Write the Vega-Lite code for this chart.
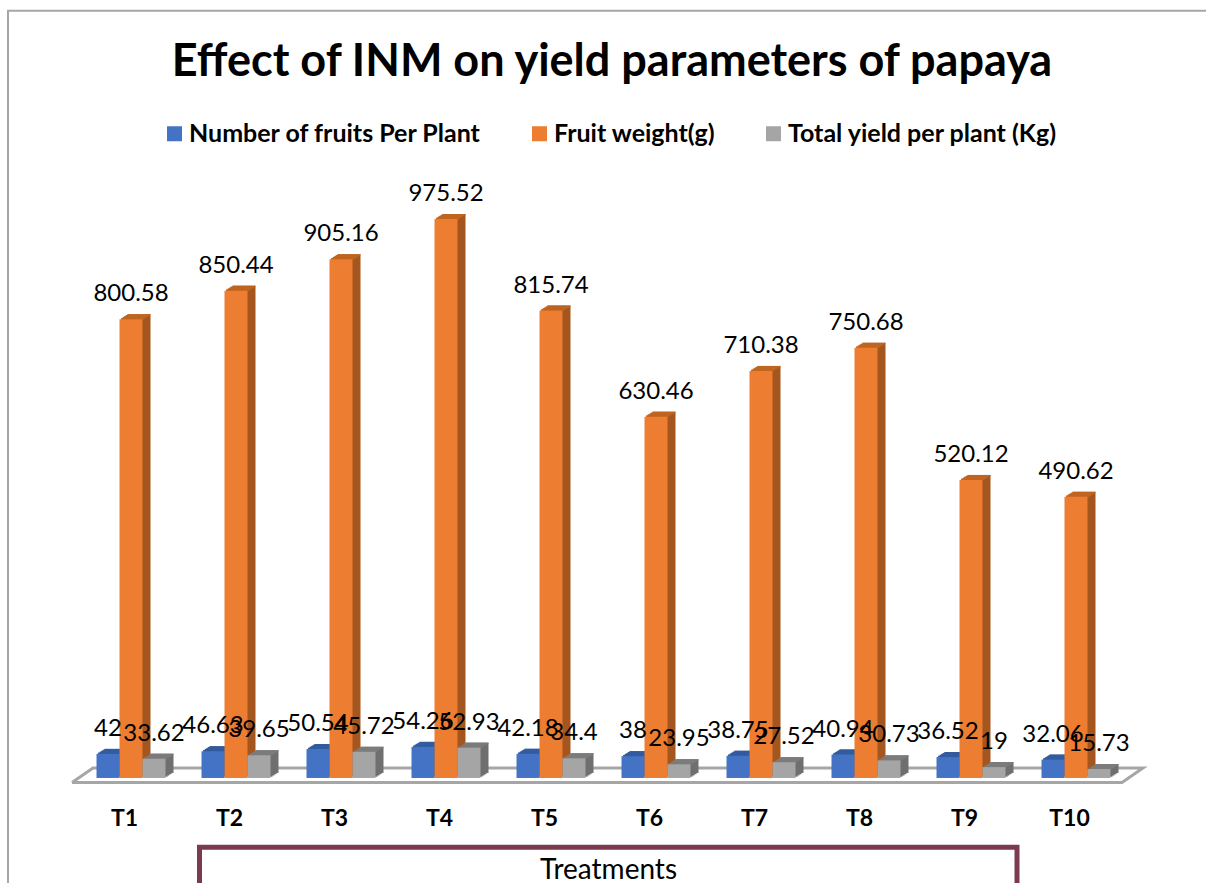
{"$schema":"https://vega.github.io/schema/vega-lite/v6.json","width":1050,"height":620,"autosize":"none","padding":{"left":72,"top":170,"right":84,"bottom":93},"background":"white","config":{"view":{"stroke":null},"font":"Lato"},"title":{"text":"Effect of INM on yield parameters of papaya","font":"Lato","fontSize":45,"fontWeight":"bold","color":"#000000","offset":-78,"dx":15,"anchor":"middle"},"resolve":{"scale":{"x":"independent"}},"layer":[{"data":{"values":[{"x":-64,"y":-200,"o":1},{"x":-64,"y":1339,"o":2},{"x":1134,"y":1339,"o":3}]},"mark":{"type":"line","stroke":"#a6a6a6","strokeWidth":2,"clip":false},"encoding":{"x":{"field":"x","type":"quantitative","axis":null,"scale":{"domain":[0,1050],"nice":false,"zero":false}},"y":{"field":"y","type":"quantitative","axis":null,"scale":{"domain":[-21,1061],"nice":false,"zero":false}},"order":{"field":"o"}}},{"data":{"values":[{"x":0,"y":-8,"o":1},{"x":1050,"y":-8,"o":2},{"x":1071,"y":17.5,"o":3},{"x":21,"y":17.5,"o":4},{"x":0,"y":-8,"o":5}]},"mark":{"type":"line","stroke":"#a6a6a6","strokeWidth":3,"clip":false},"encoding":{"x":{"field":"x","type":"quantitative","axis":null,"scale":{"domain":[0,1050],"nice":false,"zero":false}},"y":{"field":"y","type":"quantitative","axis":null},"order":{"field":"o"}}},{"data":{"values":[{"x":127.5,"x2":945,"y":-121,"y2":-200}]},"mark":{"type":"rect","fill":null,"stroke":"#7b3b4e","strokeWidth":5,"clip":false},"encoding":{"x":{"field":"x","type":"quantitative","axis":null,"scale":{"domain":[0,1050],"nice":false,"zero":false}},"x2":{"field":"x2"},"y":{"field":"y","type":"quantitative","axis":null},"y2":{"field":"y2"}}},{"data":{"values":[{"t":"T1","s":"Number of fruits Per Plant","v":42},{"t":"T1","s":"Fruit weight(g)","v":800.58},{"t":"T1","s":"Total yield per plant (Kg)","v":33.62},{"t":"T2","s":"Number of fruits Per Plant","v":46.63},{"t":"T2","s":"Fruit weight(g)","v":850.44},{"t":"T2","s":"Total yield per plant (Kg)","v":39.65},{"t":"T3","s":"Number of fruits Per Plant","v":50.54},{"t":"T3","s":"Fruit weight(g)","v":905.16},{"t":"T3","s":"Total yield per plant (Kg)","v":45.72},{"t":"T4","s":"Number of fruits Per Plant","v":54.26},{"t":"T4","s":"Fruit weight(g)","v":975.52},{"t":"T4","s":"Total yield per plant (Kg)","v":52.93},{"t":"T5","s":"Number of fruits Per Plant","v":42.18},{"t":"T5","s":"Fruit weight(g)","v":815.74},{"t":"T5","s":"Total yield per plant (Kg)","v":34.4},{"t":"T6","s":"Number of fruits Per Plant","v":38},{"t":"T6","s":"Fruit weight(g)","v":630.46},{"t":"T6","s":"Total yield per plant (Kg)","v":23.95},{"t":"T7","s":"Number of fruits Per Plant","v":38.75},{"t":"T7","s":"Fruit weight(g)","v":710.38},{"t":"T7","s":"Total yield per plant (Kg)","v":27.52},{"t":"T8","s":"Number of fruits Per Plant","v":40.94},{"t":"T8","s":"Fruit weight(g)","v":750.68},{"t":"T8","s":"Total yield per plant (Kg)","v":30.73},{"t":"T9","s":"Number of fruits Per Plant","v":36.52},{"t":"T9","s":"Fruit weight(g)","v":520.12},{"t":"T9","s":"Total yield per plant (Kg)","v":19},{"t":"T10","s":"Number of fruits Per Plant","v":32.06},{"t":"T10","s":"Fruit weight(g)","v":490.62},{"t":"T10","s":"Total yield per plant (Kg)","v":15.73}]},"encoding":{"x":{"field":"t","type":"nominal","sort":["T1","T2","T3","T4","T5","T6","T7","T8","T9","T10"],"scale":{"paddingInner":0.343,"paddingOuter":0.1715},"axis":{"title":"Treatments","titleFontSize":28,"titleFontWeight":"normal","titleColor":"#000000","titleX":536,"titleY":80,"titleBaseline":"middle","titleFont":"Lato","labelFontSize":23,"labelFontWeight":"bold","labelColor":"#000000","labelAngle":0,"labelFont":"Lato","labelPadding":17,"ticks":false,"domain":false,"grid":false}},"y":{"field":"v","type":"quantitative","axis":null}},"resolve":{"scale":{"color":"independent","xOffset":"independent"}},"layer":[{"mark":{"type":"bar","yOffset":-1.25,"y2Offset":-1.25},"encoding":{"xOffset":{"field":"s","type":"nominal","sort":["Number of fruits Per Plant","Fruit weight(g)","Total yield per plant (Kg)"],"scale":{"paddingInner":0,"paddingOuter":0,"range":[8.5,77.5]}},"color":{"field":"s","scale":{"domain":["Number of fruits Per Plant","Fruit weight(g)","Total yield per plant (Kg)"],"range":["#2f5597","#a5561f","#6f6f6f"]},"legend":null}}},{"mark":{"type":"bar","yOffset":-2.5,"y2Offset":-2.5},"encoding":{"xOffset":{"field":"s","type":"nominal","sort":["Number of fruits Per Plant","Fruit weight(g)","Total yield per plant (Kg)"],"scale":{"paddingInner":0,"paddingOuter":0,"range":[10.5,79.5]}},"color":{"field":"s","scale":{"domain":["Number of fruits Per Plant","Fruit weight(g)","Total yield per plant (Kg)"],"range":["#2f5597","#a5561f","#6f6f6f"]},"legend":null}}},{"mark":{"type":"bar","yOffset":-3.75,"y2Offset":-3.75},"encoding":{"xOffset":{"field":"s","type":"nominal","sort":["Number of fruits Per Plant","Fruit weight(g)","Total yield per plant (Kg)"],"scale":{"paddingInner":0,"paddingOuter":0,"range":[12.5,81.5]}},"color":{"field":"s","scale":{"domain":["Number of fruits Per Plant","Fruit weight(g)","Total yield per plant (Kg)"],"range":["#2f5597","#a5561f","#6f6f6f"]},"legend":null}}},{"mark":{"type":"bar","yOffset":-5,"y2Offset":-5},"encoding":{"xOffset":{"field":"s","type":"nominal","sort":["Number of fruits Per Plant","Fruit weight(g)","Total yield per plant (Kg)"],"scale":{"paddingInner":0,"paddingOuter":0,"range":[14.5,83.5]}},"color":{"field":"s","scale":{"domain":["Number of fruits Per Plant","Fruit weight(g)","Total yield per plant (Kg)"],"range":["#2f5597","#a5561f","#6f6f6f"]},"legend":null}}},{"mark":{"type":"bar","yOffset":-1.2,"y2Offset":0.2},"encoding":{"y2":{"field":"v"},"xOffset":{"field":"s","type":"nominal","sort":["Number of fruits Per Plant","Fruit weight(g)","Total yield per plant (Kg)"],"scale":{"paddingInner":0,"paddingOuter":0,"range":[8.1,77.1]}},"color":{"field":"s","scale":{"domain":["Number of fruits Per Plant","Fruit weight(g)","Total yield per plant (Kg)"],"range":["#335b9f","#c0651f","#7c7c7c"]},"legend":null}}},{"mark":{"type":"bar","yOffset":-2.2,"y2Offset":-0.8},"encoding":{"y2":{"field":"v"},"xOffset":{"field":"s","type":"nominal","sort":["Number of fruits Per Plant","Fruit weight(g)","Total yield per plant (Kg)"],"scale":{"paddingInner":0,"paddingOuter":0,"range":[9.7,78.7]}},"color":{"field":"s","scale":{"domain":["Number of fruits Per Plant","Fruit weight(g)","Total yield per plant (Kg)"],"range":["#335b9f","#c0651f","#7c7c7c"]},"legend":null}}},{"mark":{"type":"bar","yOffset":-3.2,"y2Offset":-1.8},"encoding":{"y2":{"field":"v"},"xOffset":{"field":"s","type":"nominal","sort":["Number of fruits Per Plant","Fruit weight(g)","Total yield per plant (Kg)"],"scale":{"paddingInner":0,"paddingOuter":0,"range":[11.3,80.3]}},"color":{"field":"s","scale":{"domain":["Number of fruits Per Plant","Fruit weight(g)","Total yield per plant (Kg)"],"range":["#335b9f","#c0651f","#7c7c7c"]},"legend":null}}},{"mark":{"type":"bar","yOffset":-4.2,"y2Offset":-2.8},"encoding":{"y2":{"field":"v"},"xOffset":{"field":"s","type":"nominal","sort":["Number of fruits Per Plant","Fruit weight(g)","Total yield per plant (Kg)"],"scale":{"paddingInner":0,"paddingOuter":0,"range":[12.9,81.9]}},"color":{"field":"s","scale":{"domain":["Number of fruits Per Plant","Fruit weight(g)","Total yield per plant (Kg)"],"range":["#335b9f","#c0651f","#7c7c7c"]},"legend":null}}},{"mark":{"type":"bar","yOffset":-5,"y2Offset":-3.8},"encoding":{"y2":{"field":"v"},"xOffset":{"field":"s","type":"nominal","sort":["Number of fruits Per Plant","Fruit weight(g)","Total yield per plant (Kg)"],"scale":{"paddingInner":0,"paddingOuter":0,"range":[14.5,83.5]}},"color":{"field":"s","scale":{"domain":["Number of fruits Per Plant","Fruit weight(g)","Total yield per plant (Kg)"],"range":["#335b9f","#c0651f","#7c7c7c"]},"legend":null}}},{"mark":{"type":"bar"},"encoding":{"xOffset":{"field":"s","type":"nominal","sort":["Number of fruits Per Plant","Fruit weight(g)","Total yield per plant (Kg)"],"scale":{"paddingInner":0,"paddingOuter":0,"range":[6.5,75.5]}},"color":{"field":"s","title":null,"scale":{"domain":["Number of fruits Per Plant","Fruit weight(g)","Total yield per plant (Kg)"],"range":["#4472C4","#ED7D31","#A5A5A5"]},"legend":{"orient":"none","legendX":90,"legendY":-49,"direction":"horizontal","columns":3,"symbolType":"square","symbolSize":225,"symbolStrokeWidth":0,"labelFontSize":25,"labelFontWeight":"bold","labelColor":"#000000","labelFont":"Lato","labelLimit":400,"labelOffset":2,"columnPadding":45}}}},{"mark":{"type":"text","dy":-25,"fontSize":24,"font":"Lato","color":"#000000","baseline":"middle"},"encoding":{"xOffset":{"field":"s","type":"nominal","sort":["Number of fruits Per Plant","Fruit weight(g)","Total yield per plant (Kg)"],"scale":{"paddingInner":0,"paddingOuter":0,"range":[18,64]}},"text":{"field":"v","type":"quantitative","format":""}}}]}]}
